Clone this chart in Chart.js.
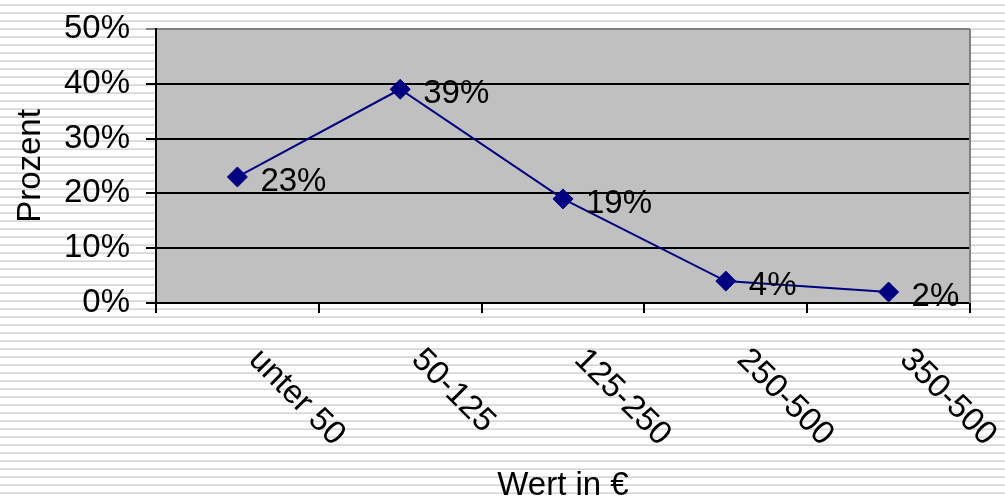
<!DOCTYPE html>
<html>
<head>
<meta charset="utf-8">
<script src="https://cdn.jsdelivr.net/npm/chart.js@4/dist/chart.umd.min.js"></script>
<style>
  html, body { margin: 0; padding: 0; }
  body {
    width: 1005px; height: 500px; overflow: hidden;
    background: repeating-linear-gradient(to bottom,
      #ffffff 0px, #ffffff 4px,
      #e4e4e4 4px, #e4e4e4 5px,
      #d6d6d6 5px, #d6d6d6 6.5px,
      #ffffff 6.5px, #ffffff 8px);
  }
  canvas { display: block; }
</style>
</head>
<body>
<canvas id="chart" width="1005" height="500"></canvas>
<script>
// Verteilung nach Wert
const categories = ['unter 50', '50-125', '125-250', '250-500', '350-500'];
const percentValues = [23, 39, 19, 4, 2];
const yTicks = [0, 10, 20, 30, 40, 50];

const FONT = "'Liberation Sans', Arial, sans-serif";
const FONT_SIZE = 33;
const NAVY = '#000080';

// grey plot background and grey right frame
const plotBackground = {
  id: 'plotBackground',
  beforeDraw(chart) {
    const { ctx, chartArea: a } = chart;
    ctx.save();
    ctx.fillStyle = '#c0c0c0';
    ctx.fillRect(a.left, a.top, a.right - a.left, a.bottom - a.top);
    ctx.restore();
  },
  beforeDatasetsDraw(chart) {
    const { ctx, chartArea: a } = chart;
    ctx.save();
    ctx.strokeStyle = '#808080';
    ctx.lineWidth = 2;
    ctx.beginPath();
    ctx.moveTo(a.right, a.top);
    ctx.lineTo(a.right, a.bottom);
    ctx.stroke();
    ctx.restore();
  }
};

// diagonal category labels below the x axis and value labels beside the points
const labelsPlugin = {
  id: 'labelsPlugin',
  afterDatasetsDraw(chart) {
    const { ctx } = chart;
    const xScale = chart.scales.x;
    const meta = chart.getDatasetMeta(0);
    ctx.save();
    ctx.fillStyle = '#000';
    ctx.font = FONT_SIZE + 'px ' + FONT;
    ctx.textAlign = 'left';
    ctx.textBaseline = 'alphabetic';
    meta.data.forEach((pt, i) => {
      ctx.fillText(percentValues[i] + '%', pt.x + 23, pt.y + 14);
    });
    categories.forEach((label, i) => {
      const x = xScale.getPixelForTick(i);
      ctx.save();
      ctx.translate(x + 10, 361);
      ctx.rotate(Math.PI / 4);
      ctx.fillText(label, 0, 0);
      ctx.restore();
    });
    ctx.restore();
  }
};

new Chart(document.getElementById('chart'), {
  type: 'line',
  data: {
    labels: categories,
    datasets: [{
      data: percentValues,
      borderColor: NAVY,
      borderWidth: 2,
      backgroundColor: NAVY,
      pointStyle: 'rectRot',
      pointRadius: 10,
      pointBorderWidth: 1,
      pointBorderColor: NAVY,
      pointBackgroundColor: NAVY,
      tension: 0,
      fill: false
    }]
  },
  options: {
    responsive: false,
    animation: false,
    devicePixelRatio: 1,
    layout: { padding: { top: 29, right: 35, bottom: 0, left: 0 } },
    plugins: {
      legend: { display: false },
      tooltip: { enabled: false }
    },
    scales: {
      x: {
        type: 'category',
        offset: true,
        grid: {
          offset: true,
          drawOnChartArea: false,
          drawTicks: true,
          tickLength: 10,
          color: '#000',
          lineWidth: 2
        },
        border: { display: true, color: '#000', width: 2 },
        ticks: { display: false },
        title: {
          display: true,
          text: 'Wert in €',
          color: '#000',
          font: { family: FONT, size: FONT_SIZE, lineHeight: 0.85 },
          padding: { top: 0, bottom: 0 }
        },
        afterFit(scale) { scale.height = 197; }
      },
      y: {
        min: 0,
        max: 50,
        afterBuildTicks(scale) { scale.ticks = yTicks.map(v => ({ value: v })); },
        grid: {
          color: ctx => (ctx.tick && ctx.tick.value === 50 ? '#808080' : '#000'),
          lineWidth: 2,
          tickLength: 10,
          drawTicks: true
        },
        border: { display: true, color: '#000', width: 2 },
        ticks: {
          color: '#000',
          padding: 16,
          font: { family: FONT, size: FONT_SIZE },
          callback: v => v + '%'
        },
        title: {
          display: true,
          text: 'Prozent',
          color: '#000',
          font: { family: FONT, size: FONT_SIZE },
          padding: { top: 11, bottom: 0 }
        },
        afterFit(scale) {
          scale.width = 156;
          scale.paddingTop = 0;
          scale.paddingBottom = 0;
        }
      }
    }
  },
  plugins: [plotBackground, labelsPlugin]
});
</script>
</body>
</html>
